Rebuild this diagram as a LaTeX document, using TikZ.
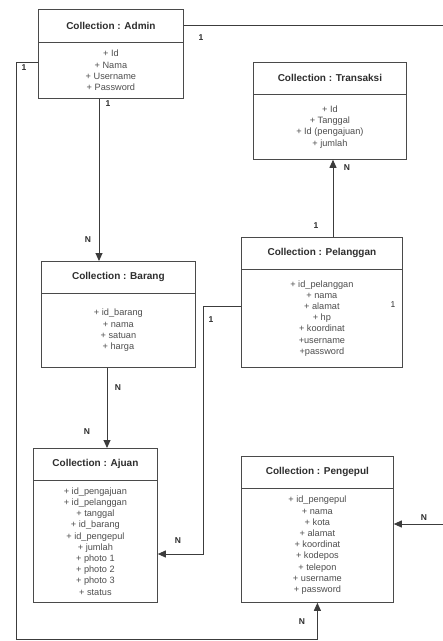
\documentclass[tikz,border=0pt]{standalone}
\usepackage{fontspec}
\setmainfont{Liberation Sans}
\usetikzlibrary{arrows.meta}
\definecolor{boxc}{HTML}{4A4A4A}
\definecolor{linec}{HTML}{3C3C3C}
\definecolor{titlec}{HTML}{2E2E2E}
\definecolor{attrc}{HTML}{4E4E4E}
\begin{document}
\begin{tikzpicture}[x=1pt,y=-1pt,
  head/.style={draw=boxc, line width=0.8pt, rectangle, anchor=north west, inner sep=0pt,
    font=\bfseries\fontsize{10}{12}\selectfont, text=titlec},
  body/.style={draw=boxc, line width=0.8pt, rectangle, anchor=north west, inner sep=0pt,
    align=center, font=\fontsize{9.2}{11.2}\selectfont, text=attrc},
  conn/.style={draw=linec, line width=0.9pt},
  arr/.style={conn, -{Triangle[length=8pt,width=7pt]}},
  card/.style={font=\bfseries\fontsize{8.5}{9}\selectfont, text=titlec, inner sep=0pt}
]
\useasboundingbox[fill=white] (0,0) rectangle (443,641);

% Admin
\node[head, minimum width=145pt, minimum height=33pt] (adminh) at (38,9) {Collection : Admin};
\node[body, minimum width=145pt, minimum height=56pt] (adminb) at (38,42)
  {+ Id\\+ Nama\\+ Username\\+ Password};

% Transaksi
\node[head, minimum width=153pt, minimum height=32pt] (transaksih) at (253,62) {Collection : Transaksi};
\node[body, minimum width=153pt, minimum height=65pt] (transaksib) at (253,94)
  {+ Id\\+ Tanggal\\+ Id (pengajuan)\\+ jumlah};

% Barang
\node[head, minimum width=154pt, minimum height=32pt] (barangh) at (41,261) {Collection : Barang};
\node[body, minimum width=154pt, minimum height=74pt] (barangb) at (41,293)
  {+ id\_barang\\+ nama\\+ satuan\\+ harga};

% Pelanggan
\node[head, minimum width=161pt, minimum height=32pt] (pelangganh) at (241,237) {Collection : Pelanggan};
\node[body, minimum width=161pt, minimum height=98pt] (pelangganb) at (241,269)
  {+ id\_pelanggan\\+ nama\\+ alamat\\+ hp\\+ koordinat\\+username\\+password};

% Ajuan
\node[head, minimum width=124pt, minimum height=32pt] (ajuanh) at (33,448) {Collection : Ajuan};
\node[body, minimum width=124pt, minimum height=122pt] (ajuanb) at (33,480)
  {+ id\_pengajuan\\+ id\_pelanggan\\+ tanggal\\+ id\_barang\\+ id\_pengepul\\+ jumlah\\+ photo 1\\+ photo 2\\+ photo 3\\+ status};

% Pengepul
\node[head, minimum width=152pt, minimum height=32pt] (pengepulh) at (241,456) {Collection : Pengepul};
\node[body, minimum width=152pt, minimum height=114pt] (pengepulb) at (241,488)
  {+ id\_pengepul\\+ nama\\+ kota\\+ alamat\\+ koordinat\\+ kodepos\\+ telepon\\+ username\\+ password};

% routing points
\coordinate (rtop) at (447,524);
\coordinate (ltop) at (16,62);
\coordinate (lbot) at (16,639);
\coordinate (pbend) at (203,554);

% Admin -> Pengepul (right side)
\draw[arr] (adminh.east) -| (rtop) -- (pengepulb.east |- rtop);
% Admin -> Pengepul (left and bottom)
\draw[arr] (adminb.west |- ltop) -- (ltop) -- (lbot) -| (pengepulb.south);
% Admin -> Barang
\draw[arr] ([xshift=61pt]adminb.south west) -- ([xshift=58pt]barangh.north west);
% Barang -> Ajuan
\draw[arr] ([xshift=66pt]barangb.south west) -- ([xshift=74pt]ajuanh.north west);
% Pelanggan -> Ajuan
\draw[arr] ([yshift=12pt]pelangganb.west) -| (pbend) -- (ajuanb.east |- pbend);
% Pelanggan -> Transaksi
\draw[arr] ([xshift=92pt]pelangganh.north west) -- ([xshift=80pt]transaksib.south west);

% cardinalities
\node[card] (c1) at (201,38) {1};
\node[card] (c2) at (424,518) {N};
\node[card] (c3) at (24,68) {1};
\node[card] (c4) at (302,622) {N};
\node[card] (c5) at (108,104) {1};
\node[card] (c6) at (88,240) {N};
\node[card] (c7) at (118,388) {N};
\node[card] (c8) at (87,432) {N};
\node[card] (c9) at (211,320) {1};
\node[card] (c10) at (178,541) {N};
\node[card] (c11) at (316,226) {1};
\node[card] (c12) at (347,168) {N};
\node[card, font=\fontsize{8.5}{9}\selectfont] (c13) at (393,305) {1};
\end{tikzpicture}
\end{document}
